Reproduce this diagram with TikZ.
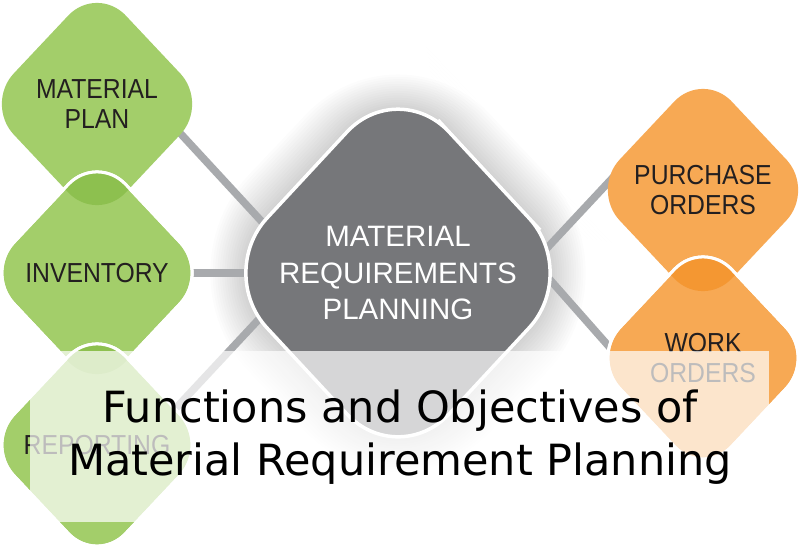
\documentclass[tikz,border=0pt]{standalone}
\usepackage{fontspec}
\usetikzlibrary{shapes.geometric,calc}
\newfontfamily\titlefont{DejaVu Sans}
\newfontfamily\shapefont{Liberation Sans}[FakeStretch=0.9]
\newfontfamily\mrpfont{Liberation Sans}
\definecolor{lgreen}{RGB}{163,206,106}
\definecolor{dgreen}{RGB}{141,192,79}
\definecolor{lorange}{RGB}{247,169,84}
\definecolor{dorange}{RGB}{244,151,50}
\definecolor{mgray}{RGB}{118,119,122}
\definecolor{linkgray}{RGB}{168,170,173}
\definecolor{txtdark}{RGB}{35,31,32}
\pgfdeclarelayer{glow}
\pgfdeclarelayer{links}
\pgfdeclarelayer{fills}
\pgfdeclarelayer{front}
\pgfsetlayers{glow,links,fills,main,front}
\begin{document}
\begin{tikzpicture}[x=1pt,y=-1pt,
  small/.style={diamond, minimum width=224pt, minimum height=238pt, inner sep=0pt, outer sep=0pt, align=center, text=txtdark, font=\shapefont\fontsize{27.5}{30}\selectfont},
  big/.style={diamond, minimum width=364pt, minimum height=392pt, inner sep=0pt, outer sep=0pt, align=center, text=white, font=\mrpfont\fontsize{29.5}{36.5}\selectfont},
  rd/.style 2 args={rounded corners=#2, insert path={($(#1.north)!0.5!(#1.east)$) -- (#1.east) -- (#1.south) -- (#1.west) -- (#1.north) -- cycle}},
  link/.style={draw=linkgray, line width=7.5pt},
  rim/.style={draw=white, line width=3pt},
  titletext/.style={font=\titlefont\fontsize{43}{52}\selectfont, text=black, inner sep=0pt, anchor=base},
]
\useasboundingbox (0,0) rectangle (800,550);

% nodes (text on main layer)
\node[small] (mp)  at (97,104) {MATERIAL\\PLAN};
\node[small] (inv) at (97,273) {INVENTORY};
\node[small] (rep) at (97,445) {REPORTING};
\node[small] (po)  at (703,190) {PURCHASE\\ORDERS};
\node[small] (wo)  at (703,358) {WORK\\ORDERS};
\node[big]   (mrp) at (398,273) {MATERIAL\\REQUIREMENTS\\PLANNING};

% background and glow
\begin{pgfonlayer}{glow}
  \fill[white] (0,0) rectangle (800,550);
  \foreach \d in {4,8,...,60} {
    \path ($(mrp.north)+(0,-\d)$) coordinate (gN)
          ($(mrp.east)+(\d,0)$) coordinate (gE)
          ($(mrp.south)+(0,\d)$) coordinate (gS)
          ($(mrp.west)+(-\d,0)$) coordinate (gW);
    \fill[black, opacity=0.012, rounded corners=75+\d]
      ($(gN)!0.5!(gE)$) -- (gE) -- (gS) -- (gW) -- (gN) -- cycle;
  }
\end{pgfonlayer}

% connectors
\begin{pgfonlayer}{links}
  \draw[link] ($(mp)+(71,16)$) -- ($(mrp)+(-122,-36)$);
  \draw[link] (inv.center) -- (mrp.center);
  \draw[link] ($(rep)+(66,-23)$) -- ($(mrp)+(-124,30)$);
  \draw[link] ($(mrp)+(136,-11)$) -- ($(po)+(-84,-19)$);
  \draw[link] ($(mrp)+(139,-8)$) -- ($(wo)+(-83,1)$);
\end{pgfonlayer}

% shape fills
\begin{pgfonlayer}{fills}
  \path[fill=lgreen, rd={mp}{42}];
  \path[fill=lgreen, rim, rd={inv}{42}];
  \begin{scope}
    \path[clip, rd={mp}{42}];
    \path[fill=dgreen, rd={inv}{42}];
  \end{scope}
  \path[rim, rd={inv}{42}];
  \path[fill=lgreen, rim, rd={rep}{42}];
  \begin{scope}
    \path[clip, rd={inv}{42}];
    \path[fill=dgreen, rd={rep}{42}];
  \end{scope}
  \path[rim, rd={rep}{42}];

  \path[fill=lorange, rd={po}{42}];
  \path[fill=lorange, rim, rd={wo}{42}];
  \begin{scope}
    \path[clip, rd={po}{42}];
    \path[fill=dorange, rd={wo}{42}];
  \end{scope}
  \path[rim, rd={wo}{42}];

  \path[fill=mgray, draw=white, line width=3.5pt, rd={mrp}{75}];
\end{pgfonlayer}

% title overlay
\begin{pgfonlayer}{front}
  \fill[white, opacity=0.7] (30,351) rectangle (769,522);
  \node[titletext] (t1) at (400,422.7) {Functions and Objectives of};
  \node[titletext] (t2) at (400,475) {Material Requirement Planning};
\end{pgfonlayer}
\end{tikzpicture}
\end{document}
